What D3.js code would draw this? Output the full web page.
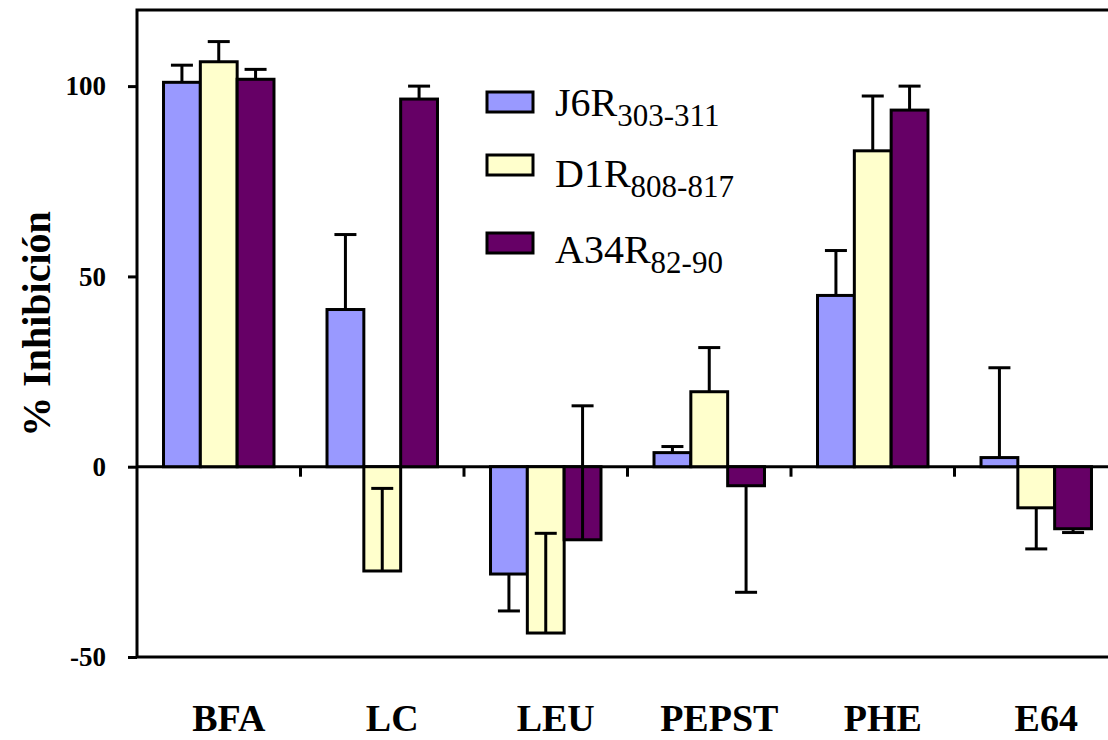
<!DOCTYPE html>
<html>
<head>
<meta charset="utf-8">
<script src="https://cdn.jsdelivr.net/npm/d3@7"></script>
<style>
body { margin: 0; background: #fff; }
svg { display: block; }
text { font-family: "Liberation Serif", "Times New Roman", serif; }
</style>
</head>
<body>
<script>
// data
var categories = ["BFA", "LC", "LEU", "PEPST", "PHE", "E64"];
var seriesNames = ["J6R", "D1R", "A34R"];
var seriesSubs = ["303-311", "808-817", "82-90"];
var seriesColors = ["#9999ff", "#ffffcc", "#660066"];
var j6rValues = [101, 41.3, -28.2, 3.7, 45, 2.4];
var d1rValues = [106.4, -27.4, -43.7, 19.7, 83, -10.8];
var a34rValues = [101.8, 96.6, -19.2, -5, 93.7, -16.3];
// signed error bar length, drawn from the bar end
var j6rErr = [4.5, 19.7, -9.7, 1.6, 11.8, 23.6];
var d1rErr = [5.3, 21.7, 26.2, 11.6, 14.4, -10.8];
var a34rErr = [2.6, 3.4, 35.2, -28, 6.3, -1];
var yTicks = [-50, 0, 50, 100];

var width = 1108, height = 740;
var margin = {left: 137, top: 10, bottom: 657};
var plotRight = 1118;

var svg = d3.select("body").append("svg").attr("width", width).attr("height", height);

var x0 = d3.scaleBand().domain(categories).range([margin.left, plotRight]).padding(0);
var x1 = d3.scaleBand().domain(seriesNames).range([0, x0.bandwidth()]).paddingInner(0).paddingOuter(0.72);
var y = d3.scaleLinear().domain([-50, 120]).range([margin.bottom, margin.top]);

var rows = [];
var vals = [j6rValues, d1rValues, a34rValues];
var errs = [j6rErr, d1rErr, a34rErr];
categories.forEach(function(c, i){
    seriesNames.forEach(function(s, k){
        rows.push({cat: c, s: s, k: k, v: vals[k][i], e: errs[k][i]});
    });
});

// zero line
svg.append("line")
    .attr("x1", margin.left).attr("x2", plotRight)
    .attr("y1", y(0)).attr("y2", y(0))
    .attr("stroke", "#000").attr("stroke-width", 3);

// category separator ticks under the zero line
svg.selectAll(".sep").data(categories.slice(1)).enter().append("line")
    .attr("class", "sep")
    .attr("x1", function(d){ return x0(d); })
    .attr("x2", function(d){ return x0(d); })
    .attr("y1", y(0)).attr("y2", y(0) + 10)
    .attr("stroke", "#000").attr("stroke-width", 3);

// bars
svg.selectAll(".bar").data(rows).enter().append("rect")
    .attr("class", "bar")
    .attr("x", function(d){ return x0(d.cat) + x1(d.s); })
    .attr("width", x1.bandwidth())
    .attr("y", function(d){ return y(Math.max(0, d.v)); })
    .attr("height", function(d){ return Math.abs(y(d.v) - y(0)); })
    .attr("fill", function(d){ return seriesColors[d.k]; })
    .attr("stroke", "#000").attr("stroke-width", 3);

// error bars
var eb = svg.selectAll(".err").data(rows).enter().append("g").attr("class", "err");
function cx(d){ return x0(d.cat) + x1(d.s) + x1.bandwidth() / 2; }
eb.append("line")
    .attr("x1", cx).attr("x2", cx)
    .attr("y1", function(d){ return y(d.v); })
    .attr("y2", function(d){ return y(d.v + d.e); })
    .attr("stroke", "#000").attr("stroke-width", 3);
eb.append("line")
    .attr("x1", function(d){ return cx(d) - 11; })
    .attr("x2", function(d){ return cx(d) + 11; })
    .attr("y1", function(d){ return y(d.v + d.e); })
    .attr("y2", function(d){ return y(d.v + d.e); })
    .attr("stroke", "#000").attr("stroke-width", 3);

// frame
svg.append("rect")
    .attr("x", margin.left).attr("y", margin.top)
    .attr("width", plotRight - margin.left).attr("height", margin.bottom - margin.top)
    .attr("fill", "none").attr("stroke", "#000").attr("stroke-width", 3);

// y axis
var yAxis = svg.append("g")
    .attr("transform", "translate(" + margin.left + ",0)")
    .call(d3.axisLeft(y).tickValues(yTicks).tickSize(9).tickPadding(22).tickFormat(function(d){ return String(d); }));
yAxis.select(".domain").remove();
yAxis.selectAll(".tick line").attr("stroke", "#000").attr("stroke-width", 3);
yAxis.selectAll(".tick text")
    .attr("font-family", "Liberation Serif, Times New Roman, serif")
    .attr("font-size", 27).attr("font-weight", "bold").attr("fill", "#000");

// category labels
svg.selectAll(".cat").data(categories).enter().append("text")
    .attr("class", "cat")
    .attr("x", function(d){ return x0(d) + x0.bandwidth() / 2 + 10; })
    .attr("y", 731)
    .attr("text-anchor", "middle")
    .attr("font-size", 38).attr("font-weight", "bold")
    .text(function(d){ return d; });

// y title
svg.append("text")
    .attr("transform", "translate(50,324) rotate(-90)")
    .attr("text-anchor", "middle")
    .attr("font-size", 40).attr("font-weight", "bold")
    .text("% Inhibición");

// legend
var legBox = [102, 165, 243];
var legText = [116, 187, 263];
var leg = svg.selectAll(".leg").data(seriesNames).enter().append("g")
    .attr("class", "leg");
leg.append("rect")
    .attr("x", 487).attr("y", function(d, i){ return legBox[i] - 10; })
    .attr("width", 46).attr("height", 20)
    .attr("fill", function(d, i){ return seriesColors[i]; })
    .attr("stroke", "#000").attr("stroke-width", 3);
var lt = leg.append("text").attr("x", 555).attr("y", function(d, i){ return legText[i]; }).attr("font-size", 40);
lt.append("tspan").text(function(d){ return d; });
lt.append("tspan").attr("font-size", 31).attr("dy", 10).text(function(d, i){ return seriesSubs[i]; });
</script>
</body>
</html>
